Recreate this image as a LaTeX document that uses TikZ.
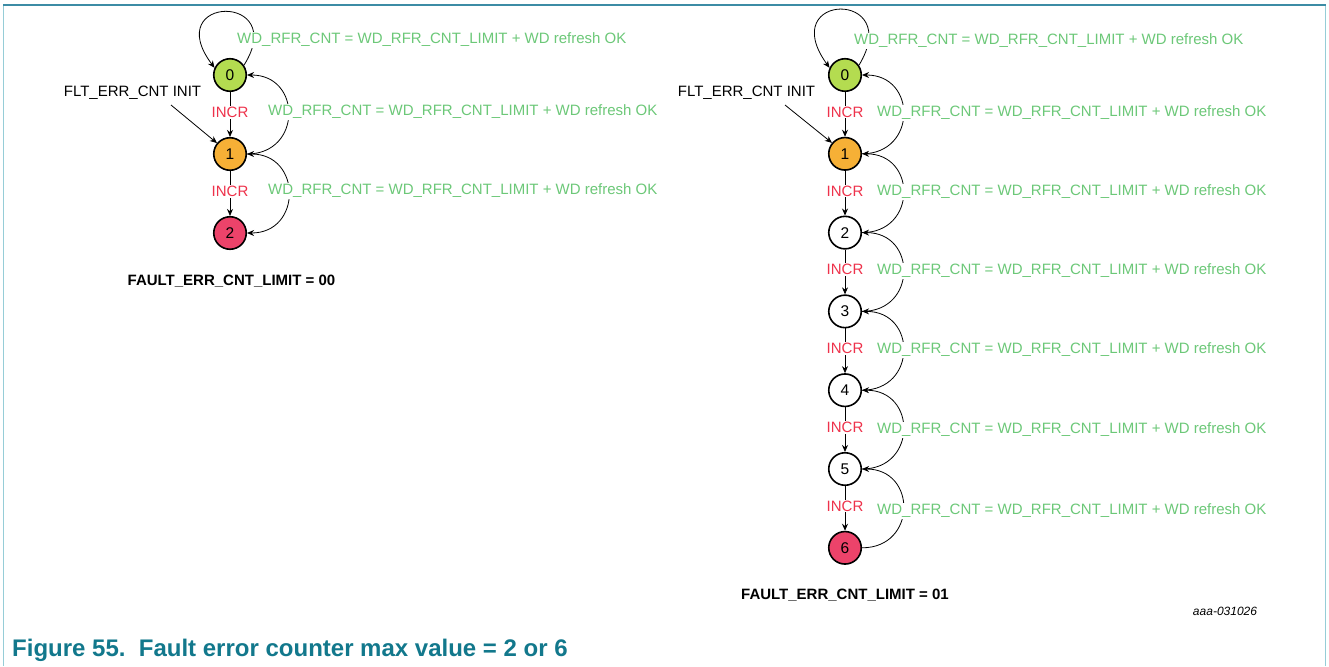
\documentclass[tikz,border=0pt]{standalone}
\usepackage{fontspec}
\setmainfont{Liberation Sans}
\usetikzlibrary{arrows.meta}
\definecolor{gfill}{RGB}{180,220,80}
\definecolor{ofill}{RGB}{246,176,54}
\definecolor{rfill}{RGB}{236,67,106}
\definecolor{okgreen}{RGB}{108,200,120}
\definecolor{incrred}{RGB}{238,50,75}
\definecolor{capteal}{RGB}{18,120,140}
\definecolor{frametop}{RGB}{60,140,165}
\definecolor{frameside}{RGB}{150,205,215}
\begin{document}
\begin{tikzpicture}[x=1pt,y=-1pt,
  state/.style={circle,draw=black,line width=1.6pt,minimum size=32.5pt,inner sep=0pt,font=\fontsize{15.5}{18}\selectfont},
  arr/.style={-{Stealth[length=7pt,width=6pt]},line width=0.8pt},
  dblarr/.style={{Stealth[length=7pt,width=6pt]}-{Stealth[length=7pt,width=6pt]},line width=0.8pt},
  incr/.style={fill=white,text=incrred,inner sep=1pt,font=\fontsize{15}{18}\selectfont},
  okl/.style={fill=white,text=okgreen,inner sep=1pt,anchor=west,font=\fontsize{15}{18}\selectfont},
  plain/.style={inner sep=1pt,font=\fontsize{15}{18}\selectfont},
  boldl/.style={inner sep=1pt,font=\fontsize{15}{18}\selectfont\bfseries},
]
\useasboundingbox (0,0) rectangle (1329,666);
% frame
\draw[frameside,line width=1.2pt] (3.5,5) -- (3.5,666);
\draw[frameside,line width=1.2pt] (1325.5,5) -- (1325.5,666);
\draw[frametop,line width=1.5pt] (3,5) -- (1326,5);

% ---------------- left diagram ----------------
\node[state,fill=gfill] (a0) at (230,75) {0};
\node[state,fill=ofill] (a1) at (230,154) {1};
\node[state,fill=rfill] (a2) at (230,233) {2};

\draw[arr] (a0.35) .. controls +(46,-73) and +(-55,-73) .. (a0.155);
\draw[arr] (a1.east) .. controls +(55,0) and +(55,0) .. (a0.east);
\draw[dblarr] (a2.east) .. controls +(55,0) and +(55,0) .. (a1.east);

\node[okl] (aok0) at (236,40) {WD\_RFR\_CNT = WD\_RFR\_CNT\_LIMIT + WD refresh OK};
\node[okl] (aok1) at (267,112) {WD\_RFR\_CNT = WD\_RFR\_CNT\_LIMIT + WD refresh OK};
\node[okl] (aok2) at (267,191) {WD\_RFR\_CNT = WD\_RFR\_CNT\_LIMIT + WD refresh OK};

\draw[arr] (a0) -- node[incr,pos=0.45] (ai1) {INCR} (a1);
\draw[arr] (a1) -- node[incr,pos=0.45] (ai2) {INCR} (a2);

\node[plain] (ainit) at (132.5,93) {FLT\_ERR\_CNT INIT};
\coordinate (ainitS) at (171,105);
\draw[arr] (ainitS) -- (a1.140);

\node[boldl] (alim) at (231.5,281) {FAULT\_ERR\_CNT\_LIMIT = 00};

% ---------------- right diagram ----------------
\node[state,fill=gfill] (b0) at (845,75) {0};
\node[state,fill=ofill] (b1) at (845,153.8) {1};
\node[state,fill=white] (b2) at (845,232.6) {2};
\node[state,fill=white] (b3) at (845,311.4) {3};
\node[state,fill=white] (b4) at (845,390.2) {4};
\node[state,fill=white] (b5) at (845,469) {5};
\node[state,fill=rfill] (b6) at (845,547.8) {6};

\draw[arr] (b0.35) .. controls +(46,-76) and +(-55,-76) .. (b0.155);
\draw[arr] (b1.east) .. controls +(55,0) and +(55,0) .. (b0.east);
\draw[arr] (b2.east) .. controls +(55,0) and +(55,0) .. (b1.east);
\draw[arr] (b3.east) .. controls +(55,0) and +(55,0) .. (b2.east);
\draw[arr] (b4.east) .. controls +(55,0) and +(55,0) .. (b3.east);
\draw[arr] (b5.east) .. controls +(55,0) and +(55,0) .. (b4.east);
\draw[arr] (b6.east) .. controls +(55,0) and +(55,0) .. (b5.east);

\node[okl] (bok0) at (853,41) {WD\_RFR\_CNT = WD\_RFR\_CNT\_LIMIT + WD refresh OK};
\node[okl] (bok1) at (876,113) {WD\_RFR\_CNT = WD\_RFR\_CNT\_LIMIT + WD refresh OK};
\node[okl] (bok2) at (876,192) {WD\_RFR\_CNT = WD\_RFR\_CNT\_LIMIT + WD refresh OK};
\node[okl] (bok3) at (876,271) {WD\_RFR\_CNT = WD\_RFR\_CNT\_LIMIT + WD refresh OK};
\node[okl] (bok4) at (876,350) {WD\_RFR\_CNT = WD\_RFR\_CNT\_LIMIT + WD refresh OK};
\node[okl] (bok5) at (876,430) {WD\_RFR\_CNT = WD\_RFR\_CNT\_LIMIT + WD refresh OK};
\node[okl] (bok6) at (876,511) {WD\_RFR\_CNT = WD\_RFR\_CNT\_LIMIT + WD refresh OK};

\draw[arr] (b0) -- node[incr,pos=0.45] (bi1) {INCR} (b1);
\draw[arr] (b1) -- node[incr,pos=0.45] (bi2) {INCR} (b2);
\draw[arr] (b2) -- node[incr,pos=0.45] (bi3) {INCR} (b3);
\draw[arr] (b3) -- node[incr,pos=0.45] (bi4) {INCR} (b4);
\draw[arr] (b4) -- node[incr,pos=0.45] (bi5) {INCR} (b5);
\draw[arr] (b5) -- node[incr,pos=0.45] (bi6) {INCR} (b6);

\node[plain] (binit) at (746.5,93) {FLT\_ERR\_CNT INIT};
\coordinate (binitS) at (785,105);
\draw[arr] (binitS) -- (b1.140);

\node[boldl] (blim) at (845,595) {FAULT\_ERR\_CNT\_LIMIT = 01};

\node[inner sep=0pt,font=\fontsize{12}{14}\selectfont\itshape] (code) at (1225,611) {aaa-031026};

\node[anchor=west,inner sep=0pt,text=capteal,font=\fontsize{24}{28}\selectfont\bfseries] (cap) at (12,650) {Figure 55.\ \ Fault error counter max value = 2 or 6};
\end{tikzpicture}
\end{document}
